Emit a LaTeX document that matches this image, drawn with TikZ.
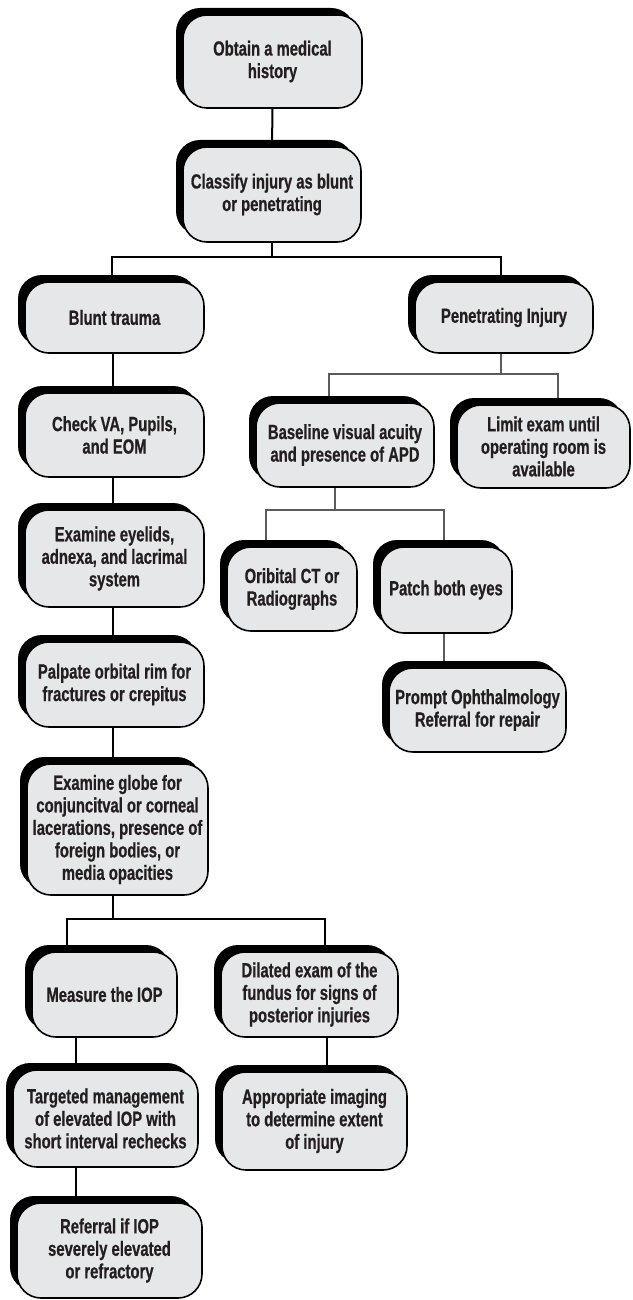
\documentclass[tikz,border=0pt]{standalone}
\usepackage{fontspec}
\newfontfamily\narrowfont[FakeStretch=0.723, FakeBold=0.6]{Liberation Sans}
\usetikzlibrary{shadows}
\definecolor{boxgray}{HTML}{E6E7E8}
\definecolor{inkgray}{HTML}{231F20}
\definecolor{linegray}{HTML}{5A5B5D}
\pgfdeclarelayer{background}
\pgfsetlayers{background,main}

\begin{document}
\begin{tikzpicture}[x=1pt, y=-1pt,
  stepbox/.style={draw=black, line width=1.6pt, fill=boxgray, rounded corners=24pt,
    align=center, inner sep=0pt, text=inkgray,
    font=\narrowfont\bfseries\fontsize{20.5}{22.5}\selectfont,
    drop shadow={shadow xshift=-7pt, shadow yshift=7pt, fill=black, opacity=1}},
  link/.style={draw=black, line width=2pt},
  graylink/.style={draw=linegray, line width=2pt}]
  \useasboundingbox (0,0) rectangle (632,1300);

  % top of the chart
  \node[stepbox, minimum width=179pt, minimum height=93pt] (history) at (272.5,61.5)
    {Obtain a medical\\history};
  \node[stepbox, minimum width=178pt, minimum height=95pt] (classify) at (272,194.5)
    {Classify injury as blunt\\or penetrating};
  \node[stepbox, minimum width=179pt, minimum height=71pt] (blunt) at (114.5,317.5)
    {Blunt trauma};
  \node[stepbox, minimum width=178pt, minimum height=71pt] (pen) at (504,317.5)
    {Penetrating Injury};

  % penetrating branch
  \node[stepbox, minimum width=178pt, minimum height=84pt] (base) at (345,445)
    {Baseline visual acuity\\and presence of APD};
  \node[stepbox, minimum width=173pt, minimum height=83pt] (limit) at (543.5,446.5)
    {Limit exam until\\operating room is\\available};
  \node[stepbox, minimum width=130pt, minimum height=84pt] (ct) at (292,589)
    {Oribital CT or\\Radiographs};
  \node[stepbox, minimum width=132pt, minimum height=86pt] (patch) at (446,590)
    {Patch both eyes};
  \node[stepbox, minimum width=177pt, minimum height=84pt] (prompt) at (477.5,710)
    {Prompt Ophthalmology\\Referral for repair};

  % blunt branch
  \node[stepbox, minimum width=179pt, minimum height=84pt] (check) at (114.5,435)
    {Check VA, Pupils,\\and EOM};
  \node[stepbox, minimum width=179pt, minimum height=97pt] (eyelid) at (114.5,558.5)
    {Examine eyelids,\\adnexa, and lacrimal\\system};
  \node[stepbox, minimum width=179pt, minimum height=85pt] (palpate) at (114.5,684.5)
    {Palpate orbital rim for\\fractures or crepitus};
  \node[stepbox, minimum width=181pt, minimum height=131pt] (globe) at (117.5,829.5)
    {Examine globe for\\conjuncitval or corneal\\lacerations, presence of\\foreign bodies, or\\media opacities};
  \node[stepbox, minimum width=145pt, minimum height=85pt] (iop) at (104.5,994.5)
    {Measure the IOP};
  \node[stepbox, minimum width=177pt, minimum height=85pt] (dilated) at (309.5,994.5)
    {Dilated exam of the\\fundus for signs of\\posterior injuries};
  \node[stepbox, minimum width=185pt, minimum height=97pt] (target) at (105.5,1118.5)
    {Targeted management\\of elevated IOP with\\short interval rechecks};
  \node[stepbox, minimum width=185pt, minimum height=98pt] (imaging) at (314.5,1121)
    {Appropriate imaging\\to determine extent\\of injury};
  \node[stepbox, minimum width=185pt, minimum height=95pt] (referral) at (109.5,1250.5)
    {Referral if IOP\\severely elevated\\or refractory};

  % junction points
  \coordinate (bluntjoin) at (112,257);
  \coordinate (penjoin) at (501,257);
  \coordinate (bluntdrop) at (113,0);
  \coordinate (basejoin) at (329,374);
  \coordinate (limitjoin) at (558,374);
  \coordinate (basestem) at (335,510);
  \coordinate (ctjoin) at (266,510);
  \coordinate (patchjoin) at (444,510);
  \coordinate (iopjoin) at (67,919);
  \coordinate (dilatedjoin) at (325,919);
  \coordinate (iopdrop) at (76,0);
  \coordinate (dilateddrop) at (327,0);

  \begin{pgfonlayer}{background}
    \draw[link] (history.south) -- (classify.north);
    \draw[link] (classify.south) -- (classify.south |- bluntjoin);
    \draw[link] (blunt.north -| bluntjoin) -- (bluntjoin) -- (penjoin) -- (pen.north -| penjoin);
    \draw[link] (blunt.south -| bluntdrop) -- (check.north -| bluntdrop);
    \draw[link] (check.south -| bluntdrop) -- (eyelid.north -| bluntdrop);
    \draw[link] (eyelid.south -| bluntdrop) -- (palpate.north -| bluntdrop);
    \draw[link] (palpate.south -| bluntdrop) -- (globe.north -| bluntdrop);
    \draw[link] (globe.south -| bluntdrop) -- (iopjoin -| bluntdrop);
    \draw[link] (iop.north -| iopjoin) -- (iopjoin) -- (dilatedjoin) -- (dilated.north -| dilatedjoin);
    \draw[link] (iop.south -| iopdrop) -- (target.north -| iopdrop);
    \draw[link] (target.south -| iopdrop) -- (referral.north -| iopdrop);
    \draw[link] (dilated.south -| dilateddrop) -- (imaging.north -| dilateddrop);
    \draw[graylink] (pen.south -| penjoin) -- (basejoin -| penjoin);
    \draw[graylink] (base.north -| basejoin) -- (basejoin) -- (limitjoin) -- (limit.north -| limitjoin);
    \draw[graylink] (base.south -| basestem) -- (basestem);
    \draw[graylink] (ct.north -| ctjoin) -- (ctjoin) -- (patchjoin) -- (patch.north -| patchjoin);
    \draw[graylink] (patch.south -| patchjoin) -- (prompt.north -| patchjoin);
  \end{pgfonlayer}
\end{tikzpicture}
\end{document}
